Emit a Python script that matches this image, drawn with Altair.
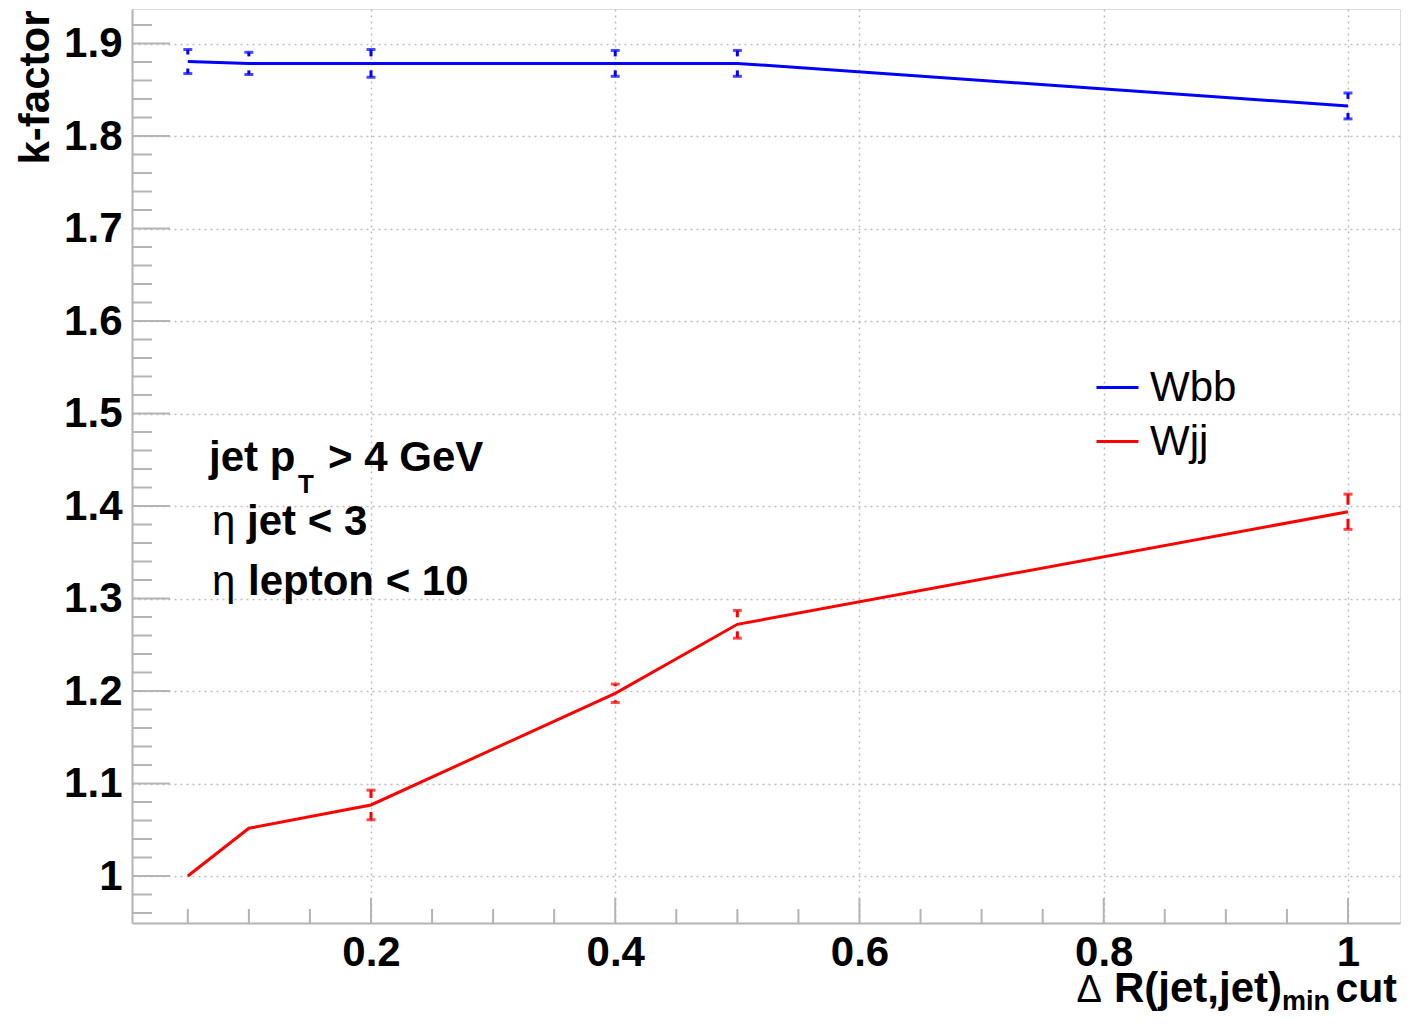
import altair as alt
import pandas as pd

# ---- data ----
x_cut = [0.05, 0.1, 0.2, 0.4, 0.5, 1.0]
wbb_k = [1.8805, 1.8785, 1.8785, 1.8785, 1.8785, 1.8325]
wbb_err = [0.013, 0.012, 0.015, 0.014, 0.014, 0.014]
wjj_k = [1.0, 1.0516, 1.0768, 1.1975, 1.2721, 1.3938]
wjj_err = [None, None, 0.016, 0.010, 0.015, 0.019]
series_names = ["Wbb", "Wjj"]
series_colors = ["#0000ff", "#ff0000"]

x_major = [0.2, 0.4, 0.6, 0.8, 1.0]
x_minor = [0.05, 0.1, 0.15, 0.25, 0.3, 0.35, 0.45, 0.5, 0.55, 0.65, 0.7, 0.75,
           0.85, 0.9, 0.95]
y_major = [1.0, 1.1, 1.2, 1.3, 1.4, 1.5, 1.6, 1.7, 1.8, 1.9]
y_minor = [0.96, 0.98, 1.02, 1.04, 1.06, 1.08, 1.12, 1.14, 1.16, 1.18,
           1.22, 1.24, 1.26, 1.28, 1.32, 1.34, 1.36, 1.38, 1.42, 1.44, 1.46, 1.48,
           1.52, 1.54, 1.56, 1.58, 1.62, 1.64, 1.66, 1.68, 1.72, 1.74, 1.76, 1.78,
           1.82, 1.84, 1.86, 1.88, 1.92]

W, H = 1268, 914
FONT = "Liberation Sans"
GRAY = "#b4b4b4"

rows = []
for name, ks, errs in [("Wbb", wbb_k, wbb_err), ("Wjj", wjj_k, wjj_err)]:
    for xv, kv, ev in zip(x_cut, ks, errs):
        rows.append({"x": xv, "k": kv, "err": ev, "series": name})
df = pd.DataFrame(rows)
edf = df.dropna(subset=["err"]).copy()
edf["hi"] = edf["k"] + edf["err"]
edf["lo"] = edf["k"] - edf["err"]

xs = alt.Scale(domain=[0.0043, 1.0426], nice=False, zero=False)
ys = alt.Scale(domain=[0.9492, 1.9373], nice=False, zero=False)
cs = alt.Scale(domain=series_names, range=series_colors)

x_axis = alt.Axis(values=x_major, format="~g", grid=True, gridDash=[2, 4],
                  gridColor="#bdbdbd", gridWidth=1.5, ticks=False,
                  labelFontSize=42, labelFontWeight="bold", labelFont=FONT,
                  labelColor="black", labelPadding=9, labelFlush=False,
                  domainColor=GRAY, domainWidth=2, title=None)
y_axis = alt.Axis(values=y_major, format="~g", grid=True, gridDash=[2, 4],
                  gridColor="#bdbdbd", gridWidth=1.5, ticks=False,
                  labelFontSize=42, labelFontWeight="bold", labelFont=FONT,
                  labelColor="black", labelPadding=10, labelFlush=False,
                  domainColor=GRAY, domainWidth=2,
                  title="k-factor", titleFontSize=42, titleFontWeight="bold",
                  titleFont=FONT, titleColor="black", titleAngle=270,
                  titleAlign="right", titleBaseline="middle",
                  titleX=-97, titleY=1)

legend = alt.Legend(orient="none", legendX=963, legendY=356, title=None,
                    symbolType="stroke", symbolSize=1764, symbolStrokeWidth=3,
                    labelFontSize=42, labelFont=FONT, labelColor="black",
                    labelOffset=10, rowPadding=10, padding=0)

lines = alt.Chart(df).mark_line(strokeWidth=3).encode(
    x=alt.X("x:Q", scale=xs, axis=x_axis),
    y=alt.Y("k:Q", scale=ys, axis=y_axis),
    color=alt.Color("series:N", scale=cs, legend=legend),
)

up_stem = alt.Chart(edf).mark_rule(strokeWidth=3, y2Offset=-7).encode(
    x="x:Q", y="hi:Q", y2="k:Q", color=alt.Color("series:N", scale=cs, legend=None))
lo_stem = alt.Chart(edf).mark_rule(strokeWidth=3, y2Offset=7).encode(
    x="x:Q", y="lo:Q", y2="k:Q", color=alt.Color("series:N", scale=cs, legend=None))
up_cap = alt.Chart(edf).mark_tick(orient="horizontal", size=9, thickness=3).encode(
    x="x:Q", y="hi:Q", color=alt.Color("series:N", scale=cs, legend=None))
lo_cap = alt.Chart(edf).mark_tick(orient="horizontal", size=9, thickness=3).encode(
    x="x:Q", y="lo:Q", color=alt.Color("series:N", scale=cs, legend=None))

# axis ticks drawn inward, ROOT style
ytm = alt.Chart(pd.DataFrame({"v": y_major})).mark_rule(color=GRAY, strokeWidth=2).encode(
    y=alt.Y("v:Q", scale=ys), x=alt.value(0), x2=alt.value(38))
ytn = alt.Chart(pd.DataFrame({"v": y_minor})).mark_rule(color=GRAY, strokeWidth=2).encode(
    y=alt.Y("v:Q", scale=ys), x=alt.value(0), x2=alt.value(20))
xtm = alt.Chart(pd.DataFrame({"v": x_major})).mark_rule(color=GRAY, strokeWidth=2).encode(
    x=alt.X("v:Q", scale=xs), y=alt.value(H), y2=alt.value(H - 25))
xtn = alt.Chart(pd.DataFrame({"v": x_minor})).mark_rule(color=GRAY, strokeWidth=2).encode(
    x=alt.X("v:Q", scale=xs), y=alt.value(H), y2=alt.value(H - 14))


def txt(s, px, py, size=42, weight="bold", align="left"):
    return alt.Chart(pd.DataFrame({"t": [s]})).mark_text(
        font=FONT, fontSize=size, fontWeight=weight, align=align,
        baseline="alphabetic", color="black").encode(
        text="t:N", x=alt.value(px), y=alt.value(py))


notes = [
    txt("jet p", 77, 462),
    txt("T", 166, 484, size=26),
    txt("> 4 GeV", 196, 462),
    txt("η", 80, 526, weight="normal"),
    txt("jet < 3", 115, 526),
    txt("η", 80, 586, weight="normal"),
    txt("lepton < 10", 116, 586),
    # x-axis title
    txt("Δ", 970, 993, size=38, weight="normal", align="right"),
    txt("R(jet,jet)", 1150, 993, size=42, align="right"),
    txt("min", 1198, 1001, size=27, align="right"),
    txt("cut", 1265, 993, size=41, align="right"),
]

chart = alt.layer(ytm, ytn, xtm, xtn, lines, up_stem, lo_stem, up_cap, lo_cap, *notes).properties(
    width=W, height=H,
    autosize=alt.AutoSizeParams(type="none"),
    padding={"left": 124, "top": 1, "right": 1, "bottom": 92},
).configure_view(stroke="black", strokeWidth=2).configure(background="white")

chart.save("out.html", embed_options={"renderer": "svg", "actions": False})
